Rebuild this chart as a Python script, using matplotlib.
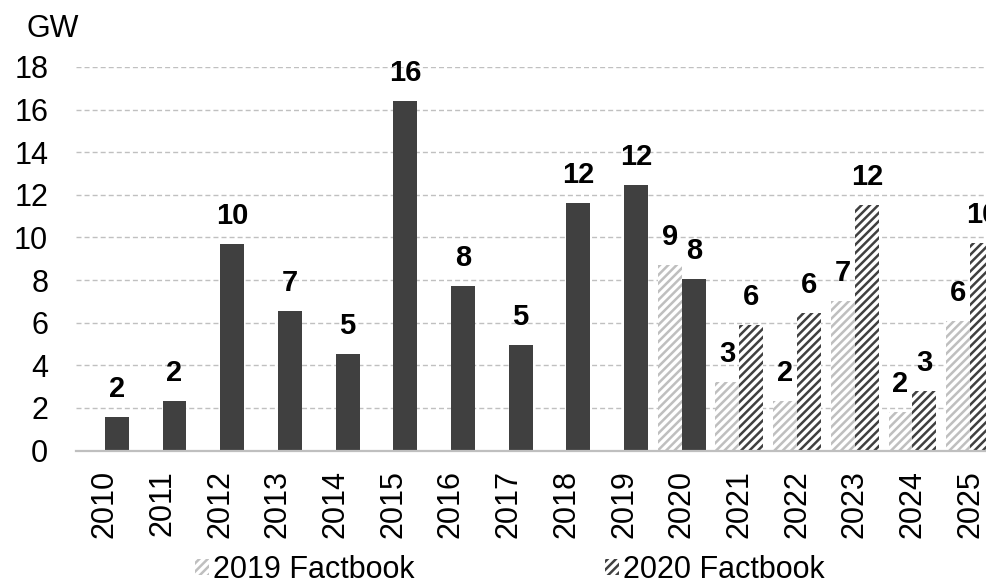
import matplotlib.pyplot as plt
import matplotlib.patches as mpatches
import numpy as np

plt.rcParams['font.family'] = ['Liberation Sans', 'DejaVu Sans']
plt.rcParams['hatch.linewidth'] = 1.8

# data (GW)
years = ["2010", "2011", "2012", "2013", "2014", "2015", "2016", "2017",
         "2018", "2019", "2020", "2021", "2022", "2023", "2024", "2025"]
# historical / 2020 Factbook actuals (solid), 2010-2020
actual = [1.55, 2.3, 9.7, 6.55, 4.55, 16.4, 7.7, 4.95, 11.6, 12.45, 8.05]
actual_labels = ["2", "2", "10", "7", "5", "16", "8", "5", "12", "12", "8"]
# 2019 Factbook forecast, 2020-2025
fb2019 = [8.7, 3.2, 2.3, 7.0, 1.8, 6.1]
fb2019_labels = ["9", "3", "2", "7", "2", "6"]
# 2020 Factbook forecast, 2021-2025
fb2020 = [5.9, 6.45, 11.5, 2.8, 9.75]
fb2020_labels = ["6", "6", "12", "3", "10"]

dark = "#404040"
light = "#bfbfbf"
grid_col = "#c0c0c0"

fig = plt.figure(figsize=(9.86, 5.85), dpi=100)
W, H = 986.0, 585.0
# axes in pixels: left 76, right ~999 (clipped by figure), y0 at 450.5, y18 at 67
ax = fig.add_axes([76 / W, (H - 450.5) / H, 923 / W, 383.5 / H])

x = np.arange(len(years))
w = 0.415

x_act = x[:11]
x_19 = x[10:]
x_20 = x[11:]

ax.bar(x_act + w / 2, actual, width=w, color=dark, linewidth=0, zorder=2)
ax.bar(x_19 - w / 2, fb2019, width=w, color="white", edgecolor=light,
       hatch="////", linewidth=0, zorder=2)
ax.bar(x_20 + w / 2, fb2020, width=w, color="white", edgecolor=dark,
       hatch="////", linewidth=0, zorder=2)

lab_kw = dict(textcoords="offset points", xytext=(0, 14.4), ha="center",
              va="baseline", fontsize=21, fontweight="bold", color="black")
for xi, v, s in zip(x_act + w / 2, actual, actual_labels):
    ax.annotate(s, (xi, v), **lab_kw)
for xi, v, s in zip(x_19 - w / 2, fb2019, fb2019_labels):
    ax.annotate(s, (xi, v), **lab_kw)
for xi, v, s in zip(x_20 + w / 2, fb2020, fb2020_labels):
    ax.annotate(s, (xi, v), **lab_kw)

ax.set_xlim(-0.5, 15.5)
ax.set_ylim(0, 18)
ax.set_yticks(np.arange(0, 19, 2))
ax.set_xticks(x)
ax.set_xticklabels(years, rotation=90, fontsize=22)
ax.tick_params(axis="y", length=0, pad=20, labelsize=22)
ax.tick_params(axis="x", length=0, pad=14)

for s in ["top", "right", "left"]:
    ax.spines[s].set_visible(False)
ax.spines["bottom"].set_color(light)
ax.spines["bottom"].set_linewidth(1.6)

ax.set_axisbelow(True)
ax.yaxis.grid(True, color=grid_col, linewidth=1.0, linestyle=(0, (3.6, 2.2)))

fig.text(26 / W, 1 - 29 / H, "GW", fontsize=22, ha="left", va="center")

# legend
h1 = mpatches.Patch(facecolor="white", edgecolor=light, hatch="////", linewidth=0)
h2 = mpatches.Patch(facecolor="white", edgecolor=dark, hatch="////", linewidth=0)
leg_kw = dict(loc="center left", frameon=False, fontsize=22, handlelength=0.45,
              handleheight=0.45, handletextpad=0.15, borderpad=0, borderaxespad=0)
fig.legend([h1], ["2019 Factbook"], bbox_to_anchor=(195 / W, 15 / H), **leg_kw)
fig.legend([h2], ["2020 Factbook"], bbox_to_anchor=(605 / W, 15 / H), **leg_kw)

fig.savefig("out.png", dpi=100)
